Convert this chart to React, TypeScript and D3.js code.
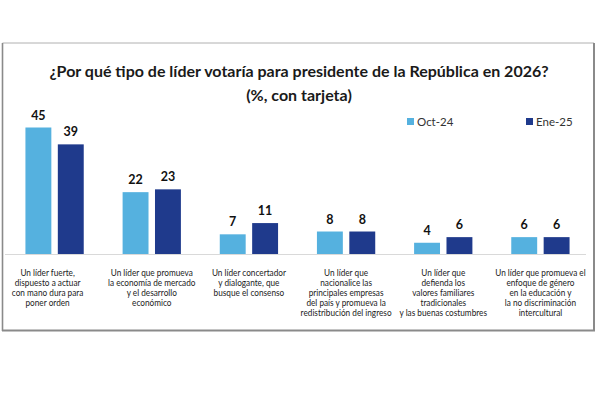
import React from "react";
import * as d3 from "d3";

const categories: string[][] = [
  ["Un líder fuerte,", "dispuesto a actuar", "con mano dura para", "poner orden"],
  ["Un líder que promueva", "la economía de mercado", "y el desarrollo", "económico"],
  ["Un líder concertador", "y dialogante, que", "busque el consenso"],
  ["Un líder que", "nacionalice las", "principales empresas", "del país y promueva la", "redistribución del ingreso"],
  ["Un líder que", "defienda los", "valores familiares", "tradicionales", "y las buenas costumbres"],
  ["Un líder que promueva el", "enfoque de género", "en la educación y", "la no discriminación", "intercultural"],
];
const seriesNames = ["Oct-24", "Ene-25"];
const oct24 = [45, 22, 7, 8, 4, 6];
const ene25 = [39, 23, 11, 8, 6, 6];
const titleLines = [
  "¿Por qué tipo de líder votaría para presidente de la República en 2026?",
  "(%, con tarjeta)",
];

const W = 600;
const H = 396;
const colors = ["#55B1DF", "#1F3A8C"];
const font = "Lato, 'Noto Sans', sans-serif";

export default function App() {
  const series = [oct24, ene25];
  const idx = d3.range(categories.length).map(String);
  const x0 = d3.scaleBand<string>().domain(idx).range([6, 589]).paddingInner(0).paddingOuter(0);
  const x1 = d3.scaleBand<string>().domain(seriesNames).range([0, x0.bandwidth()]).paddingInner(0.2).paddingOuter(0.6);
  const baseY = 254;
  const y = d3.scaleLinear().domain([0, 45]).range([baseY, 127.5]);

  return (
    <svg width={W} height={H} style={{ position: "absolute", left: 0, top: 0, background: "#fff" }} fontFamily={font}>
      <rect x={0} y={0} width={W} height={H} fill="#fff" />
      {/* frame */}
      <line x1={2.5} y1={43} x2={594} y2={43} stroke="#b0b0b0" strokeWidth={1} />
      <line x1={2.5} y1={43} x2={2.5} y2={331} stroke="#8a8a8a" strokeWidth={1.6} />
      <line x1={594} y1={43} x2={594} y2={331} stroke="#8a8a8a" strokeWidth={2} />
      <line x1={2} y1={330.5} x2={595} y2={330.5} stroke="#8a8a8a" strokeWidth={2} />

      {titleLines.map((t, i) => (
        <text key={i} x={299} y={77 + i * 24} textAnchor="middle" fontSize={16} fontWeight={700} fill="#1a1a1a">
          {t}
        </text>
      ))}

      {/* legend */}
      {seriesNames.map((s, i) => {
        const lx = [407, 526][i];
        return (
          <g key={s}>
            <rect x={lx} y={118} width={7} height={7} fill={colors[i]} />
            <text x={lx + 10} y={125.5} fontSize={11.5} fill="#333">{s}</text>
          </g>
        );
      })}

      {/* baseline */}
      <line x1={5} y1={baseY + 0.5} x2={586} y2={baseY + 0.5} stroke="#d9d9d9" strokeWidth={1} />

      {idx.map((k, ci) => (
        <g key={k} transform={`translate(${x0(k)},0)`}>
          {seriesNames.map((s, si) => {
            const v = series[si][ci];
            const bx = x1(s)!;
            return (
              <g key={s}>
                <rect x={bx} y={y(v)} width={x1.bandwidth()} height={baseY - y(v)} fill={colors[si]} />
                <text x={bx + x1.bandwidth() / 2} y={y(v) - 8} textAnchor="middle" fontSize={12.5} fontWeight={700} fill="#111">
                  {v}
                </text>
              </g>
            );
          })}
          {categories[ci].map((line, li) => (
            <text
              key={li}
              transform={`translate(${x0.bandwidth() / 2 + (ci === 0 ? -7 : 0)},${276 + li * 10}) scale(0.8,1)`}
              textAnchor="middle"
              fontSize={10.3}
              fill="#222"
            >
              {line}
            </text>
          ))}
        </g>
      ))}
    </svg>
  );
}
